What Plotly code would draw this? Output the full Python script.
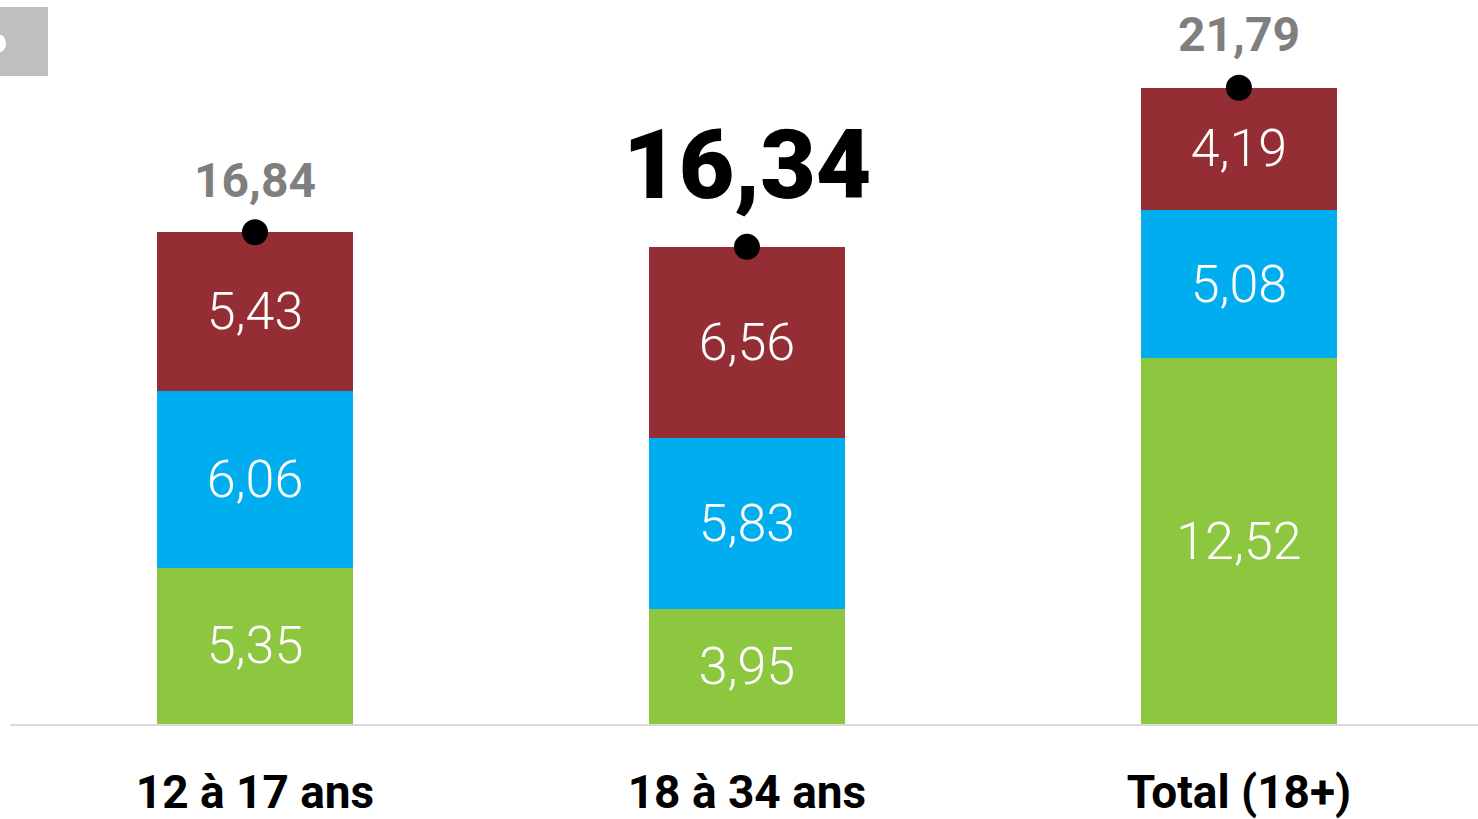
import plotly.graph_objects as go

categories = ["12 à 17 ans", "18 à 34 ans", "Total (18+)"]
green_vals = [5.35, 3.95, 12.52]
blue_vals = [6.06, 5.83, 5.08]
red_vals = [5.43, 6.56, 4.19]
totals = [16.84, 16.34, 21.79]
total_labels = ["16,84", "16,34", "21,79"]

def fr(v):
    return f"{v:.2f}".replace(".", ",")

GREEN = "#8DC63F"
BLUE = "#00AEEF"
RED = "#952D34"
FONT = "Roboto"

fig = go.Figure()
seg_font = dict(family=FONT, size=52, color="white", weight=300)
for vals, col in [(green_vals, GREEN), (blue_vals, BLUE), (red_vals, RED)]:
    fig.add_trace(go.Bar(
        x=categories, y=vals, marker=dict(color=col, line=dict(width=0)),
        width=0.4, text=[fr(v) for v in vals], textposition="inside",
        insidetextanchor="middle", textfont=seg_font, hoverinfo="skip",
        showlegend=False,
    ))

fig.add_trace(go.Scatter(
    x=categories, y=totals, mode="markers",
    marker=dict(color="black", size=26, line=dict(width=0)),
    showlegend=False, hoverinfo="skip",
))

# total annotations
styles = [
    dict(size=48, color="#7F7F7F", weight=700, shift=52),
    dict(size=96, color="#000000", weight=900, shift=82),
    dict(size=48, color="#7F7F7F", weight=700, shift=53),
]
for cat, tot, lab, st in zip(categories, totals, total_labels, styles):
    fig.add_annotation(
        x=cat, y=tot, text=lab, showarrow=False, yanchor="middle",
        yshift=st["shift"],
        font=dict(family=FONT, size=st["size"], color=st["color"], weight=st["weight"]),
    )

W, H = 1478, 819
L, R, T, B = 10, 0, 0, 95
pw = W - L - R
ph = H - T - B

# decorative grey square at top-left
fig.add_shape(type="rect", xref="paper", yref="paper",
              x0=(0 - L) / pw, x1=(48 - L) / pw,
              y0=(H - B - 76) / ph, y1=(H - B - 7) / ph,
              fillcolor="#BFBFBF", line=dict(width=0), layer="above")
fig.add_shape(type="circle", xref="paper", yref="paper",
              x0=(-6 - L) / pw, x1=(6 - L) / pw,
              y0=(H - B - 52) / ph, y1=(H - B - 35) / ph,
              fillcolor="white", line=dict(width=0), layer="above")

fig.update_layout(
    barmode="stack",
    width=W, height=H,
    margin=dict(l=L, r=R, t=T, b=B, autoexpand=False),
    plot_bgcolor="white", paper_bgcolor="white",
    xaxis=dict(
        range=[-0.498, 2.486], showgrid=False, zeroline=False,
        showline=True, linecolor="#D9D9D9", linewidth=2,
        ticks="", tickfont=dict(family=FONT, size=46, color="black", weight=700),
        ticklabelstandoff=27, automargin=False,
    ),
    yaxis=dict(range=[0, 724 / 29.2], visible=False, showgrid=False,
               zeroline=False, automargin=False),
)

fig.write_html("out.html", config={"displayModeBar": False},
               post_script="document.body.style.margin='0';document.body.style.overflow='hidden';")
